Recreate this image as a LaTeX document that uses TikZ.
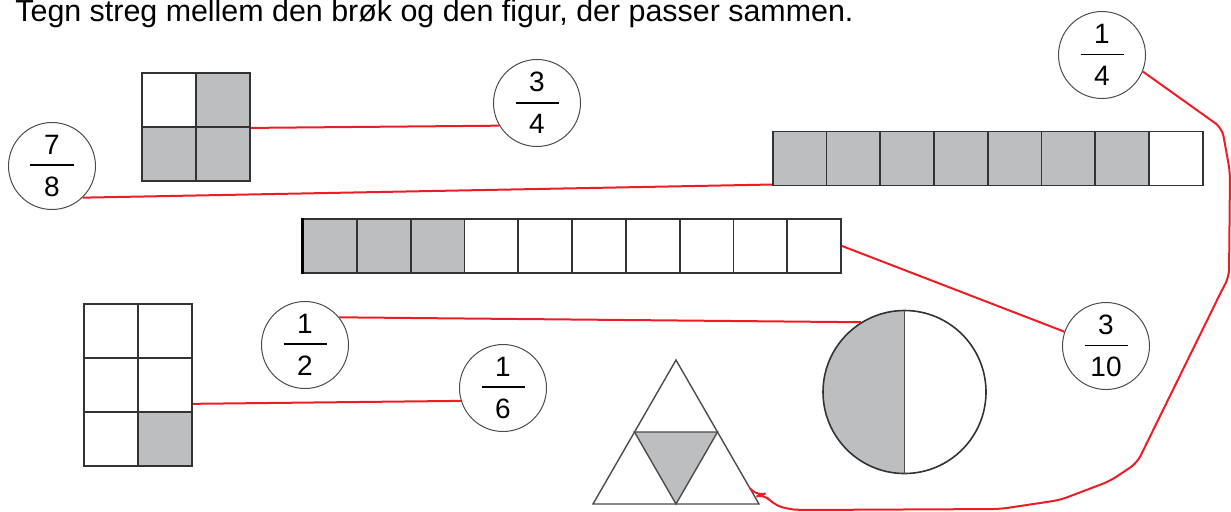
\documentclass[tikz,border=0pt]{standalone}
\usepackage{fontspec}
\setmainfont{Liberation Sans}
\usetikzlibrary{calc}
\definecolor{graa}{RGB}{189,190,192}
\definecolor{rod}{RGB}{238,28,36}
\newcommand{\broek}[2]{\vbox{\hbox to 21.5pt{\hss#1\hss}\kern5pt\hrule height 0.9pt\kern5.5pt\hbox to 21.5pt{\hss#2\hss}}}

\begin{document}
\begin{tikzpicture}[x=0.5pt, y=-0.5pt,
  brokring/.style={draw=black!70, line width=0.5pt, circle, minimum size=43.5pt, inner sep=0pt, font=\fontsize{14}{16}\selectfont},
  celle/.style={draw=black!80, line width=0.9pt, minimum size=27pt, inner sep=0pt, fill=#1},
  celle/.default=white,
  kant/.style={draw=black!70, line width=0.7pt},
  streg/.style={draw=rod, line width=1pt}
]
  \useasboundingbox (0,0) rectangle (1231,511);
  \node[anchor=base west, inner sep=0pt, font=\fontsize{15.2}{18}\selectfont] (titel) at (15,21)
    {Tegn streg mellem den brøk og den figur, der passer sammen.};

  % brøkerne
  \node[brokring] (f14) at (1102,55) {\broek{1}{4}};
  \node[brokring] (f34) at (537,103) {\broek{3}{4}};
  \node[brokring] (f78) at (52,166) {\broek{7}{8}};
  \node[brokring] (f12) at (305,345) {\broek{1}{2}};
  \node[brokring] (f16) at (503,388) {\broek{1}{6}};
  \node[brokring] (f310) at (1106,346) {\broek{3}{10}};

  % kvadrat med 4 felter
  \node[celle] (k4-1) at (169,100) {};
  \node[celle=graa] (k4-2) at (223,100) {};
  \node[celle=graa] (k4-3) at (169,154) {};
  \node[celle=graa] (k4-4) at (223,154) {};

  % stribe med 8 felter
  \foreach \i in {1,...,8} {
    \ifnum\i<8 \def\farve{graa}\else\def\farve{white}\fi
    \node[celle=\farve] (k8-\i) at ({746+53.75*\i},158.5) {};
  }

  % stribe med 10 felter
  \foreach \i in {1,...,10} {
    \ifnum\i<4 \def\farve{graa}\else\def\farve{white}\fi
    \node[celle=\farve] (k10-\i) at ({276.2+53.8*\i},246) {};
  }
  \draw[black, line width=1.6pt] (k10-1.north west) -- (k10-1.south west);

  % rektangel med 6 felter
  \foreach \r in {1,2,3}
    \foreach \s in {1,2} {
      \ifnum\r\s=32 \def\farve{graa}\else\def\farve{white}\fi
      \node[celle=\farve] (k6-\r\s) at ({57+54*\s},{277+54*\r}) {};
    }

  % cirkel delt i to
  \fill[graa] (904.5,392) ++(0pt,40.75pt) arc[start angle=90, end angle=270, radius=40.75pt] -- cycle;
  \node[circle, draw=black!80, line width=0.8pt, minimum size=81.5pt, inner sep=0pt] (pie) at (904.5,392) {};
  \draw[kant] (pie.north) -- (pie.south);

  % trekant
  \coordinate (tv) at (593,504);
  \coordinate (th) at (759,504);
  \coordinate (tt) at (676,360);
  \fill[graa] ($(tv)!0.5!(tt)$) -- ($(th)!0.5!(tt)$) -- ($(tv)!0.5!(th)$) -- cycle;
  \draw[kant] (tv) -- (th) -- (tt) -- cycle;
  \draw[kant] ($(tv)!0.5!(tt)$) -- ($(th)!0.5!(tt)$) -- ($(tv)!0.5!(th)$) -- cycle;
  \coordinate (tm) at ($(th)!0.11!(tt)$);

  % stregerne
  \draw[streg] (k4-2.south east) -- (f34.211);
  \draw[streg] (f78.314) -- (k8-1.223);
  \draw[streg] (k10-10.east) -- (f310.161);
  \draw[streg] (f12.39) -- (pie.122);
  \draw[streg] (k6-22.326) -- (f16.197);
  \draw[streg, rounded corners=4pt] (f14.338) -- (1222,128) -- (1230,172) -- (1229,277)
    -- (1222,290) -- (1137,463) -- (1110,481) -- (1060,500) -- (1000,509) -- (800,510)
    -- (787,509) -- (773,504) -- (764,494) -- (758,496) -- (tm);
\end{tikzpicture}
\end{document}
